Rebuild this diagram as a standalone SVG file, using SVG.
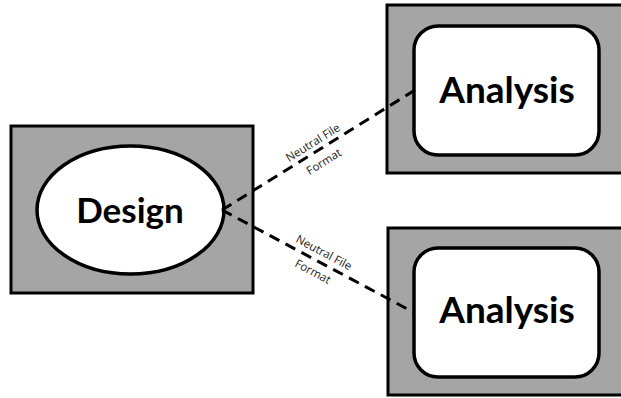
<svg xmlns="http://www.w3.org/2000/svg" width="621" height="398" viewBox="0 0 621 398">
  <style>
    .frame { fill: #a5a5a5; stroke: #000; stroke-width: 3; }
    .inner { fill: #fff; stroke: #000; stroke-width: 3.5; }
    .big { font-family: Lato, "Open Sans", sans-serif; font-weight: bold; fill: #000; text-anchor: middle; }
    .link { fill: none; stroke: #000; stroke-width: 3; stroke-dasharray: 11 7; }
    .lbl { font-family: "Open Sans", "Noto Sans", sans-serif; font-size: 11.5px; fill: #222; text-anchor: middle; }
  </style>
  <rect width="621" height="398" fill="#fff"/>

  <g id="design">
    <rect class="frame" x="11" y="126" width="242" height="167"/>
    <ellipse class="inner" cx="130.5" cy="210" rx="93.5" ry="64"/>
    <text class="big" x="130" y="223" font-size="35">Design</text>
  </g>

  <g id="analysis-top">
    <rect class="frame" x="387" y="5" width="240" height="168"/>
    <rect class="inner" x="414" y="26" width="185" height="129" rx="24"/>
    <text class="big" x="507" y="103" font-size="37">Analysis</text>
  </g>

  <g id="analysis-bottom">
    <rect class="frame" x="388" y="228" width="240" height="167"/>
    <rect class="inner" x="414" y="248" width="185" height="129" rx="24"/>
    <text class="big" x="507" y="323" font-size="37">Analysis</text>
  </g>

  <g id="connectors">
    <line class="link" x1="222" y1="210" x2="415" y2="90"/>
    <line class="link" x1="222" y1="210" x2="413" y2="312"/>
    <text class="lbl" transform="translate(315,146) rotate(-32)">Neutral File</text>
    <text class="lbl" transform="translate(326,165) rotate(-32)">Format</text>
    <text class="lbl" transform="translate(322,256) rotate(28)">Neutral File</text>
    <text class="lbl" transform="translate(311,275) rotate(28)">Format</text>
  </g>
</svg>
